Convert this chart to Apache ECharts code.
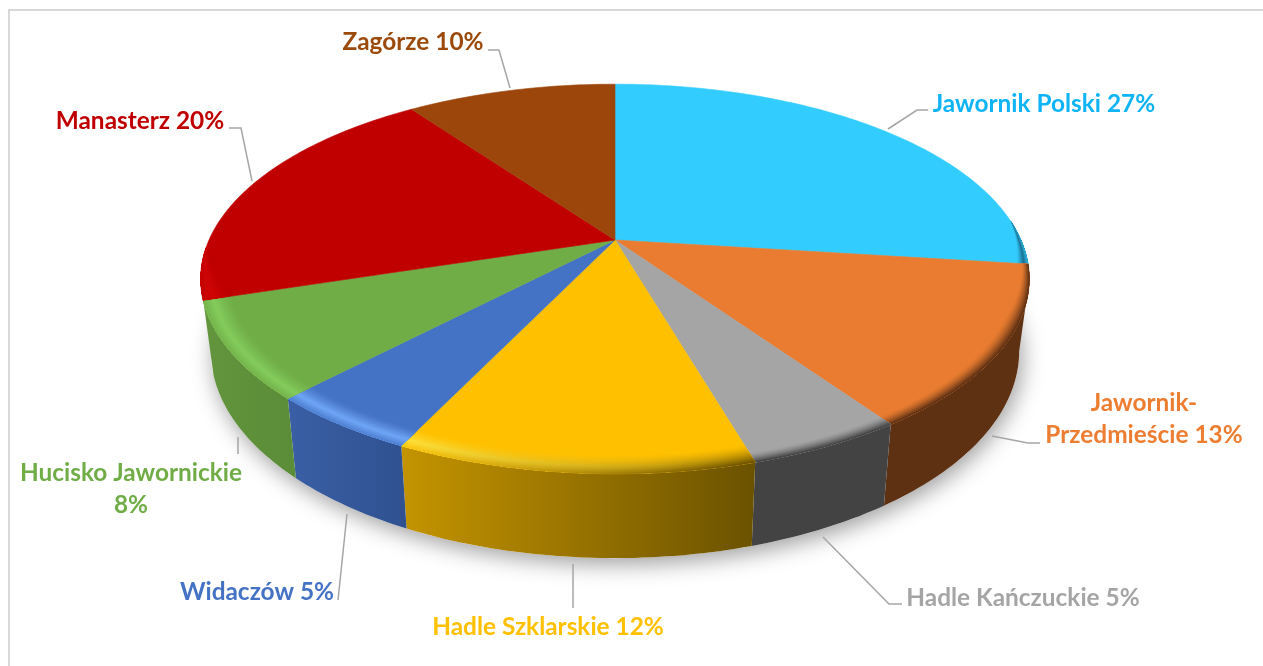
<!DOCTYPE html>
<html>
<head>
<meta charset="utf-8">
<title>Udział miejscowości</title>
<style>
  html, body { margin: 0; padding: 0; background: #fff; }
  #main { width: 1263px; height: 666px; }
</style>
<script src="https://cdn.jsdelivr.net/npm/echarts@6/dist/echarts.min.js"></script>
</head>
<body>
<div id="main"></div>
<script>
// data (a trailing \n means the percent goes on its own line)
const categories = ["Jawornik Polski", "Jawornik-\nPrzedmieście", "Hadle Kańczuckie", "Hadle Szklarskie", "Widaczów", "Hucisko Jawornickie\n", "Manasterz", "Zagórze"];
const shares = [27, 13.4, 5.1, 11.6, 5, 8, 20, 9.9];

// styles
const sliceColors = ["#33ccff", "#e97c30", "#a5a5a5", "#ffc000", "#4472c4", "#70ad47", "#c00000", "#9c460c"];
const textColors = ["#0fb4f5", "#ed7d31", "#a5a5a5", "#ffc000", "#4472c4", "#70ad47", "#c00000", "#9c4a0c"];
const wallLeft = ["#1f7a99", "#5f3113", "#434343", "#c49400", "#3b5fa5", "#62953d", "#8f0000", "#5e2a07"];
const wallRight = ["#1f7a99", "#5f3113", "#434343", "#6b5200", "#2f5190", "#5b8c38", "#8f0000", "#5e2a07"];
const rimLeft = ["#1a6f90", "#5f3113", "#434343", "#ffe23c", "#6fa6f7", "#83cc5c", "#cf0404", "#9c460c"];
const rimRight = ["#1a6f90", "#5f3113", "#434343", "#6b5200", "#6fa6f7", "#83cc5c", "#cf0404", "#9c460c"];

// label and leader line layout
const labelSpots = [[1044, 104], [1144, 419], [1023, 598], [548, 627], [257, 592], [131, 489], [140, 121], [413, 42]];
const leaderLines = [
  [[888, 129], [917, 110], [928, 110]],
  [[992, 436], [1028, 443], [1040, 443]],
  [[823, 537], [889, 604], [902, 604]],
  [[573, 564], [573, 608]],
  [[347, 514], [338, 600]],
  [[238, 437], [238, 454]],
  [[252, 181], [241, 128], [229, 128]],
  [[510, 88], [499, 50], [488, 50]],
];

// the pie is a circle under a perspective: top face and bottom rim
const topFace = { cx: 615, cy: 240, rx: 406, ry: 187, k: 0.2 };
const bottomFace = { cx: 615, cy: 310, rx: 396, ry: 198.5, k: 0.2 };
const total = shares.reduce((a, b) => a + b, 0);
const wallFrom = (Math.acos(-0.2) * 180) / Math.PI;
const wallTo = 252;

function project(face, deg, r) {
  const t = (deg * Math.PI) / 180;
  const X = r * Math.sin(t);
  const Y = r * Math.cos(t);
  const w = 1 + face.k * Y;
  return [face.cx + (face.rx * X) / w, face.cy - (face.ry * Y) / w];
}

function arc(face, from, to, r) {
  const pts = [];
  const steps = Math.max(2, Math.ceil(Math.abs(to - from)));
  for (let i = 0; i <= steps; i++) {
    const d = from + ((to - from) * i) / steps;
    pts.push(project(face, d, typeof r === "function" ? r(d) : r));
  }
  return pts;
}

function sliceRange(i) {
  let before = 0;
  for (let j = 0; j < i; j++) before += shares[j];
  return [(before / total) * 360, ((before + shares[i]) / total) * 360];
}

function mix(a, b, t) {
  const pa = [1, 3, 5].map((p) => parseInt(a.substr(p, 2), 16));
  const pb = [1, 3, 5].map((p) => parseInt(b.substr(p, 2), 16));
  const c = pa.map((v, n) => Math.round(v + (pb[n] - v) * t));
  return "rgb(" + c.join(",") + ")";
}

function sideGradient(left, right) {
  return new echarts.graphic.LinearGradient(0, 0, 1, 0, [
    { offset: 0, color: left },
    { offset: 1, color: right },
  ]);
}

function renderWall(params, api) {
  const i = params.dataIndex;
  const children = [];
  if (i === 0) {
    // soft drop shadow under the whole pie
    children.push({
      type: "polygon",
      shape: { points: arc(bottomFace, 0, 360, 1) },
      style: { fill: "#fff", shadowColor: "rgba(0,0,0,0.38)", shadowBlur: 22, shadowOffsetX: 3, shadowOffsetY: 6 },
    });
  }
  const range = sliceRange(i);
  const from = Math.max(range[0], wallFrom);
  const to = Math.min(range[1], wallTo);
  if (to > from) {
    const pts = arc(topFace, from, to, 1).concat(arc(bottomFace, to, from, 1));
    children.push({
      type: "polygon",
      shape: { points: pts },
      style: { fill: sideGradient(wallLeft[i], wallRight[i]) },
    });
  }
  return { type: "group", children: children };
}

// nested crescents along the front edge give the soft bevel
const bevelSteps = 16;
const bevelLightWidth = 0.064;
const bevelDarkWidth = 0.034;

function bevelLight(t) {
  return t < 0.65 ? Math.pow(t / 0.65, 1.3) : 1 - 0.7 * ((t - 0.65) / 0.35);
}

function bevelDark(t) {
  return Math.pow(t, 1.5);
}

function bevelFade(d) {
  const right = Math.min(1, Math.max(0, (d - 84) / 30));
  const left = Math.min(1, Math.max(0, (268 - d) / 16));
  return Math.min(right, left);
}

function renderTop(params, api) {
  const i = params.dataIndex;
  const range = sliceRange(i);
  const base = sliceColors[i];
  const children = [{
    type: "polygon",
    shape: { points: [project(topFace, 0, 0)].concat(arc(topFace, range[0], range[1], 1)) },
    style: { fill: base, stroke: base, lineWidth: 0.6 },
  }];
  const from = Math.max(range[0], 84);
  const to = Math.min(range[1], 268);
  if (to > from) {
    const leftIsLight = rimLeft[i] !== wallLeft[i];
    const rightIsLight = rimRight[i] !== wallRight[i];
    const width = leftIsLight ? bevelLightWidth : bevelDarkWidth;
    for (let n = 0; n < bevelSteps; n++) {
      const t = (n + 1) / bevelSteps;
      const w = width * (1 - n / bevelSteps);
      const inner = arc(topFace, from, to, (d) => 1 - w * bevelFade(d));
      const outer = arc(topFace, to, from, 1);
      const a = mix(base, rimLeft[i], (leftIsLight ? bevelLight : bevelDark)(t));
      const b = mix(base, rimRight[i], (rightIsLight ? bevelLight : bevelDark)(t));
      children.push({
        type: "polygon",
        shape: { points: inner.concat(outer) },
        style: { fill: sideGradient(a, b) },
      });
    }
  }
  return { type: "group", children: children };
}

function renderLabel(params, api) {
  const i = params.dataIndex;
  const name = categories[i];
  const pct = Math.round(api.value(0)) + "%";
  return {
    type: "group",
    children: [
      {
        type: "polyline",
        shape: { points: leaderLines[i] },
        style: { stroke: "#a6a6a6", lineWidth: 1.5, fill: "none" },
      },
      {
        type: "text",
        x: labelSpots[i][0],
        y: labelSpots[i][1],
        style: {
          text: name.endsWith("\n") ? name + pct : name + " " + pct,
          fill: textColors[i],
          font: 'bold 24.4px Lato, "Open Sans", sans-serif',
          align: "center",
          verticalAlign: "middle",
          lineHeight: 32,
        },
      },
    ],
  };
}

const pieData = categories.map((c, i) => ({ name: c, value: [shares[i]] }));
const myChart = echarts.init(document.getElementById("main"), null, { renderer: "canvas" });

myChart.setOption({
  animation: false,
  backgroundColor: "#ffffff",
  tooltip: { show: false },
  graphic: [
    {
      type: "rect",
      shape: { x: 9, y: 10, width: 1300, height: 700 },
      style: { fill: "none", stroke: "#d9d9d9", lineWidth: 2 },
      silent: true,
      z: -1,
    },
  ],
  series: [
    { type: "custom", coordinateSystem: "none", silent: true, renderItem: renderWall, data: pieData, z: 1 },
    { type: "custom", coordinateSystem: "none", silent: true, renderItem: renderTop, data: pieData, z: 2 },
    { type: "custom", coordinateSystem: "none", silent: true, renderItem: renderLabel, data: pieData, z: 3 },
  ],
});
</script>
</body>
</html>
